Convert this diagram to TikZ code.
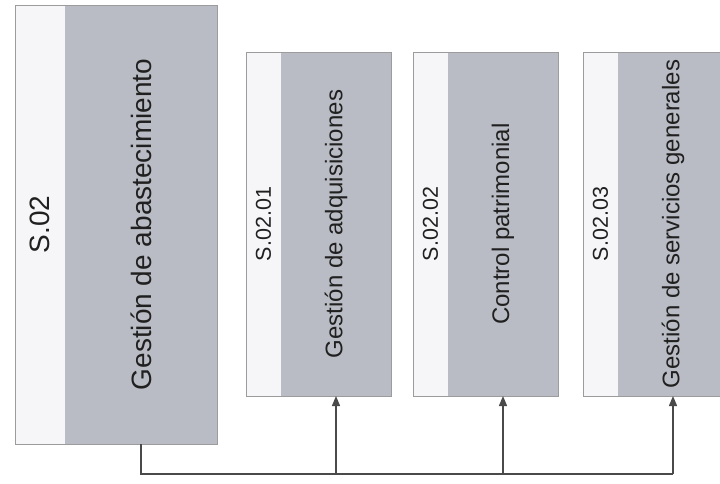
\documentclass[tikz,border=0pt]{standalone}
\usepackage{fontspec}
\setmainfont{Liberation Sans}
\usetikzlibrary{arrows.meta}
\definecolor{boxgray}{HTML}{B9BCC4}
\definecolor{stripwhite}{HTML}{F6F6F8}
\definecolor{framegray}{HTML}{9C9C9C}
\definecolor{linegray}{HTML}{4A4A4A}
\definecolor{textdark}{HTML}{202020}
\begin{document}
\begin{tikzpicture}[x=1pt,y=-1pt,
  every node/.style={inner sep=0pt, outer sep=0pt},
  stripbox/.style={fill=stripwhite, draw=none},
  graybox/.style={fill=boxgray, draw=none},
  framebox/.style={draw=framegray, line width=0.8pt, fill=none},
  bigtext/.style={rotate=90, text=textdark, font=\fontsize{28}{30}\selectfont},
  subtext/.style={rotate=90, text=textdark, font=\fontsize{24}{26}\selectfont},
  codetext/.style={rotate=90, text=textdark, font=\fontsize{21.5}{24}\selectfont},
  conn/.style={draw=linegray, line width=1.4pt},
  arr/.style={conn, -{Triangle[width=8pt,length=10pt]}}
]
\useasboundingbox (0,0) rectangle (720,483);
\fill[white] (0,0) rectangle (720,483);

% main box S.02
\node[stripbox, minimum width=50pt, minimum height=439pt] (w0) at (40,224.5) {};
\node[graybox, minimum width=152pt, minimum height=439pt] (g0) at (141,224.5) {};
\node[framebox, minimum width=202pt, minimum height=439pt] (f0) at (116,224.5) {};
\node[bigtext] (c0) at (w0.center) {S.02};
\node[bigtext] (t0) at (g0.center) {Gestión de abastecimiento};

% box S.02.01
\node[stripbox, minimum width=35pt, minimum height=344pt] (w1) at (263.5,224) {};
\node[graybox, minimum width=110pt, minimum height=344pt] (g1) at (336,224) {};
\node[framebox, minimum width=145pt, minimum height=344pt] (f1) at (318.5,224) {};
\node[codetext] (c1) at (w1.center) {S.02.01};
\node[subtext] (t1) at (g1.center) {Gestión de adquisiciones};

% box S.02.02
\node[stripbox, minimum width=35pt, minimum height=344pt] (w2) at (430.5,224) {};
\node[graybox, minimum width=110pt, minimum height=344pt] (g2) at (503,224) {};
\node[framebox, minimum width=145pt, minimum height=344pt] (f2) at (485.5,224) {};
\node[codetext] (c2) at (w2.center) {S.02.02};
\node[subtext] (t2) at (g2.center) {Control patrimonial};

% box S.02.03
\node[stripbox, minimum width=35pt, minimum height=344pt] (w3) at (600.5,224) {};
\node[graybox, minimum width=110pt, minimum height=344pt] (g3) at (673,224) {};
\node[framebox, minimum width=145pt, minimum height=344pt] (f3) at (655.5,224) {};
\node[codetext] (c3) at (w3.center) {S.02.03};
\node[subtext] (t3) at (g3.center) {Gestión de servicios generales};

% connectors
\coordinate (j3) at (g3.south |- 0,474);
\draw[conn] (g0.south) |- (j3);
\draw[arr] (g1.south |- j3) -- (g1.south);
\draw[arr] (g2.south |- j3) -- (g2.south);
\draw[arr] (j3) -- (g3.south);
\end{tikzpicture}
\end{document}
